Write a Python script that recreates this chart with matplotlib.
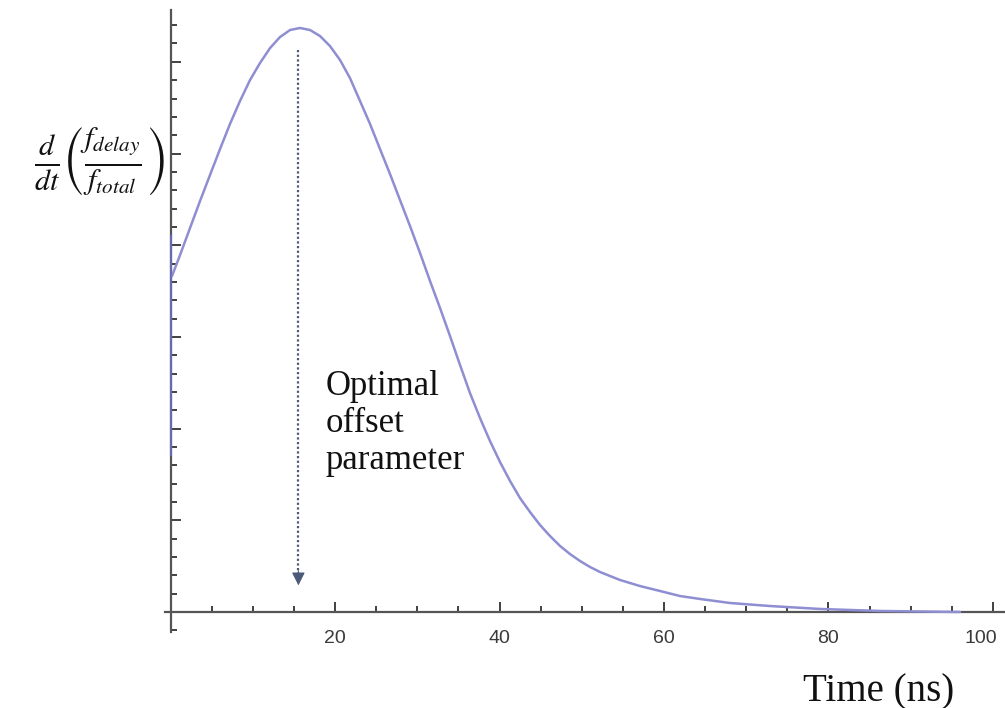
import numpy as np
import matplotlib
matplotlib.use("Agg")
import matplotlib.pyplot as plt
from matplotlib.ticker import MultipleLocator, NullFormatter
import matplotlib.transforms as mtransforms

# curve (time in ns, arbitrary y units)
time_ns = [0.18, 1.16, 2.37, 3.59, 4.80, 6.02, 7.23, 8.45, 9.67, 10.88,
           12.10, 13.31, 14.53, 15.74, 16.96, 18.18, 19.39, 20.61, 21.82, 23.04,
           24.26, 25.47, 26.69, 27.90, 29.12, 30.34, 31.55, 32.77, 33.98, 35.20,
           36.41, 37.63, 38.84, 40.06, 41.28, 42.49, 43.71, 44.92, 46.14, 47.36,
           48.57, 49.79, 51.00, 52.22, 54.65, 57.08, 59.51, 61.95, 64.38, 68.03,
           72.89, 78.97, 86.26, 95.99]
rate = [3.664, 3.893, 4.187, 4.482, 4.765, 5.049, 5.322, 5.573, 5.802, 5.987,
        6.150, 6.270, 6.347, 6.369, 6.347, 6.281, 6.172, 6.020, 5.823, 5.573,
        5.322, 5.049, 4.776, 4.493, 4.209, 3.915, 3.610, 3.315, 3.010, 2.694,
        2.388, 2.115, 1.865, 1.636, 1.429, 1.243, 1.090, 0.949, 0.829, 0.720,
        0.632, 0.556, 0.491, 0.436, 0.349, 0.283, 0.229, 0.174, 0.142, 0.098,
        0.065, 0.033, 0.011, 0.0]

# little vertical piece of the curve sitting on the y axis
edge_x = [0.0, 0.0]
edge_y = [4.10, 1.71]

# optimal offset marker
opt_x = 15.55
arrow_top = 6.13
arrow_tip = 0.29

xticks = [20, 40, 60, 80, 100]

plt.rcParams['mathtext.fontset'] = 'stix'

fig = plt.figure(figsize=(10.05, 7.08), dpi=100)
ax = fig.add_axes([165 / 1005, 73 / 708, 840 / 1005, 627 / 708])
ax.set_xlim(-0.67, 101.46)
ax.set_ylim(-0.251, 6.587)

line_col = '#8e8ed2'
ax.plot(time_ns, rate, color=line_col, lw=1.8, solid_capstyle='round',
        solid_joinstyle='round', zorder=3)
ax.plot(edge_x, edge_y, color='#7070c8', lw=1.6, alpha=0.8, zorder=3)

# dotted arrow
arrow_col = '#4b5a78'
ax.plot([opt_x, opt_x], [arrow_top, arrow_tip + 0.12], color=arrow_col,
        lw=1.6, linestyle=(0, (1, 1.1)), zorder=4)
ax.annotate('', xy=(opt_x, arrow_tip), xytext=(opt_x, arrow_tip + 0.16),
            arrowprops=dict(arrowstyle='-|>', color=arrow_col, lw=0.8,
                            mutation_scale=20, shrinkA=0, shrinkB=0))

ax.text(18.8, 2.64, 'Optimal\noffset\nparameter', family='Liberation Serif',
        fontsize=25, va='top', ha='left', linespacing=1.17, color='#111111')

# axes in the middle style
for s in ['top', 'right']:
    ax.spines[s].set_visible(False)
ax.spines['left'].set_position(('data', 0))
ax.spines['bottom'].set_position(('data', 0))
ax.spines['left'].set_bounds(-0.22, 6.56)
ax.spines['bottom'].set_bounds(-0.67, 101.46)
for s in ['left', 'bottom']:
    ax.spines[s].set_color('#555555')
    ax.spines[s].set_linewidth(1.6)

ax.set_xticks(xticks)
ax.set_xticklabels([str(v) for v in xticks])
ax.xaxis.set_minor_locator(MultipleLocator(5))
ax.yaxis.set_major_locator(MultipleLocator(1))
ax.yaxis.set_minor_locator(MultipleLocator(0.2))
ax.yaxis.set_major_formatter(NullFormatter())
ax.tick_params(axis='both', which='major', direction='in', length=7, width=1.3,
               color='#333333')
ax.tick_params(axis='both', which='minor', direction='in', length=4, width=1.3,
               color='#333333')
ax.tick_params(axis='x', which='major', pad=13, labelsize=14, labelcolor='#3a3a3a')
labs = ax.get_xticklabels()
for lab in labs:
    lab.set_family('Liberation Sans')
# last label pulled inside the figure, as in the original
labs[-1].set_transform(labs[-1].get_transform() +
                       mtransforms.ScaledTranslation(-12 / 100, 0, fig.dpi_scale_trans))

fig.text(879 / 1005, 7 / 708, 'Time (ns)', family='Liberation Serif', fontsize=28,
         ha='center', va='baseline', color='#111111')
fig.text(99 / 1005, (708 - 162) / 708,
         r'$\frac{d}{dt}\left(\frac{f_{delay}}{f_{total}}\right)$',
         fontsize=31, ha='center', va='center', color='#111111')

fig.savefig('out.png', dpi=100)
